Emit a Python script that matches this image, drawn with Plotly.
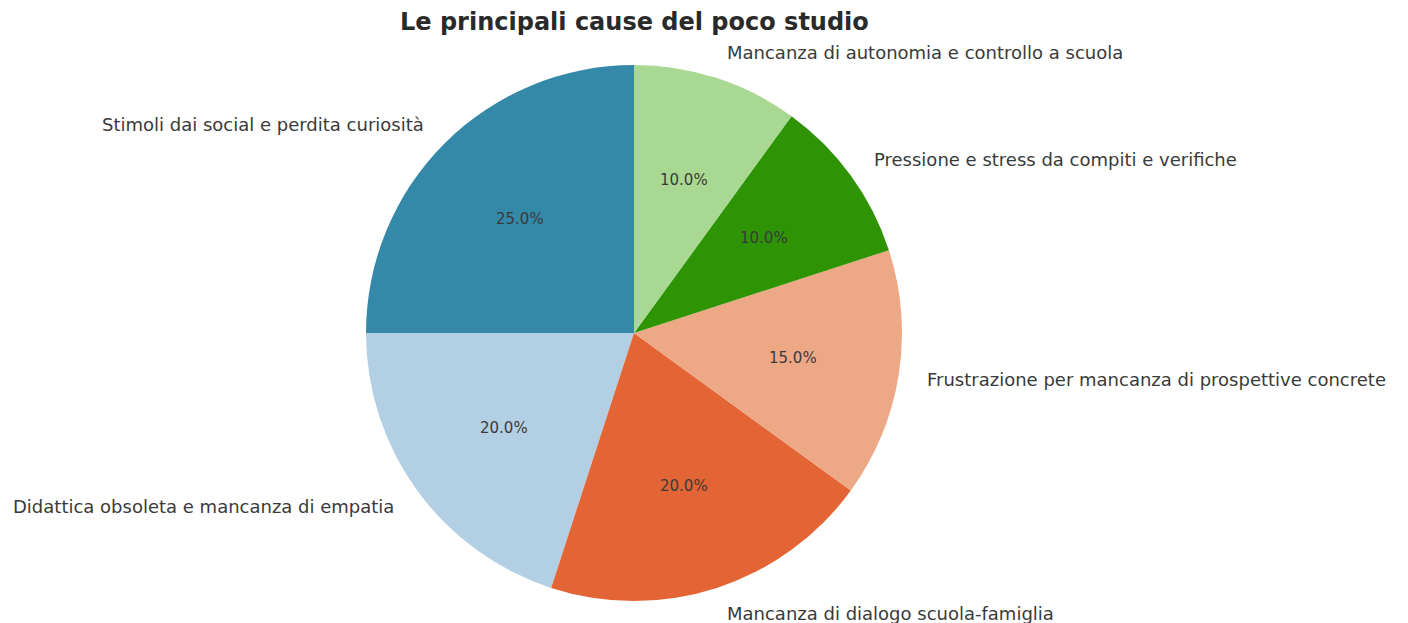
import math
import plotly.graph_objects as go

labels = [
    "Stimoli dai social e perdita curiosità",
    "Didattica obsoleta e mancanza di empatia",
    "Mancanza di dialogo scuola-famiglia",
    "Frustrazione per mancanza di prospettive concrete",
    "Pressione e stress da compiti e verifiche",
    "Mancanza di autonomia e controllo a scuola",
]
values = [25, 20, 20, 15, 10, 10]
colors = ["#3489a8", "#b3cfe3", "#e36535", "#eda985", "#2e9404", "#a8d891"]
title = "Le principali cause del poco studio"

W, H = 1408, 623
CX, CY, R = 634, 333, 268  # pixel centre/radius of the pie

dom_x = [(CX - R) / W, (CX + R) / W]
dom_y = [1 - (CY + R) / H, 1 - (CY - R) / H]

total = sum(values)
# plotly's counterclockwise pies end the first slice at `rotation`;
# shift so the first slice starts at 12 o'clock (matplotlib startangle=90)
rotation = -360.0 * values[0] / total

fig = go.Figure(go.Pie(
    labels=labels, values=values, sort=False, direction="counterclockwise",
    rotation=rotation, marker=dict(colors=colors, line=dict(width=0)),
    textinfo="none", hoverinfo="label+percent", showlegend=False,
    domain=dict(x=dom_x, y=dom_y),
))

start = 90.0
annotations = []
font = "DejaVu Sans, Verdana, sans-serif"
for lab, v in zip(labels, values):
    span = 360.0 * v / total
    mid = math.radians(start + span / 2)
    start += span
    cx, sy = math.cos(mid), math.sin(mid)
    # outer label at 1.1 R
    lx = (CX + 1.1 * R * cx) / W
    ly = 1 - (CY - 1.1 * R * sy) / H
    annotations.append(dict(
        x=lx, y=ly, xref="paper", yref="paper", text=lab, showarrow=False,
        xanchor="left" if cx > 0 else "right", yanchor="middle",
        font=dict(family=font, size=18, color="#3a3a3a"),
    ))
    # percentage at 0.6 R
    px = (CX + 0.6 * R * cx) / W
    py = 1 - (CY - 0.6 * R * sy) / H
    annotations.append(dict(
        x=px, y=py, xref="paper", yref="paper", text=f"{100 * v / total:.1f}%",
        showarrow=False, xanchor="center", yanchor="middle",
        font=dict(family=font, size=15, color="#3a3a3a"),
    ))

annotations.append(dict(
    x=CX / W, y=1 - 22 / H, xref="paper", yref="paper", text=f"<b>{title}</b>",
    showarrow=False, xanchor="center", yanchor="middle",
    font=dict(family=font, size=24, color="#2a2a2a"),
))

fig.update_layout(
    width=W, height=H, margin=dict(l=0, r=0, t=0, b=0),
    paper_bgcolor="white", plot_bgcolor="white", annotations=annotations,
)
fig.write_html("out.html")
